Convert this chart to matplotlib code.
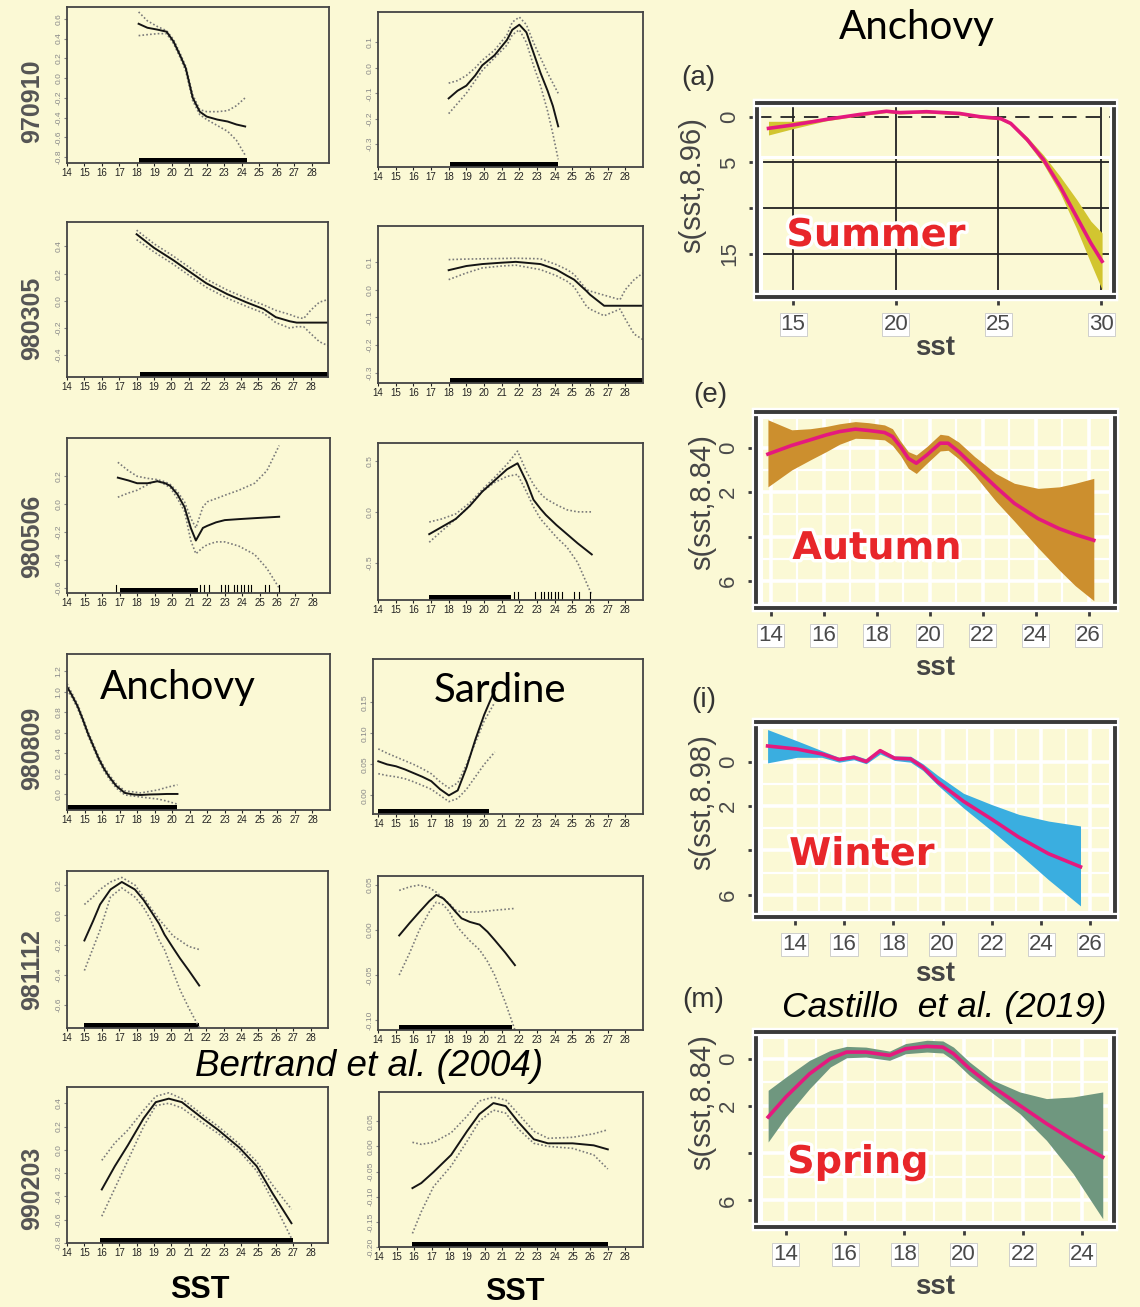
import numpy as np
import matplotlib.pyplot as plt
from matplotlib import patheffects as pe
from matplotlib.patches import Rectangle

plt.rcParams['font.family'] = ['Liberation Sans', 'DejaVu Sans']

W, H = 1140, 1307
BG = '#FBF9D5'

# ---------------- left column data (Bertrand et al. 2004) ----------------
a1_x = [18.1, 18.6, 19.2, 19.7, 20.1, 20.5, 20.8, 21.2, 21.6, 22.0, 22.6, 23.2, 23.7, 24.2]
a1_fit = [0.55, 0.51, 0.49, 0.47, 0.37, 0.22, 0.10, -0.20, -0.34, -0.39, -0.42, -0.44, -0.47, -0.49]
a1_hi = [0.67, 0.58, 0.52, 0.48, 0.39, 0.24, 0.12, -0.17, -0.32, -0.34, -0.34, -0.33, -0.28, -0.20]
a1_lo = [0.43, 0.44, 0.45, 0.45, 0.35, 0.20, 0.07, -0.23, -0.37, -0.42, -0.48, -0.54, -0.63, -0.78]
a1_yt = [-0.8, -0.6, -0.4, -0.2, 0.0, 0.2, 0.4, 0.6]

s1_x = [18.0, 18.5, 19.0, 19.5, 19.9, 20.6, 21.3, 21.6, 22.0, 22.4, 22.8, 23.2, 23.6, 23.9, 24.2]
s1_fit = [-0.12, -0.09, -0.07, -0.03, 0.01, 0.05, 0.11, 0.15, 0.17, 0.14, 0.06, -0.02, -0.09, -0.15, -0.23]
s1_hi = [-0.06, -0.05, -0.03, 0.0, 0.03, 0.07, 0.13, 0.18, 0.20, 0.17, 0.10, 0.04, -0.02, -0.06, -0.10]
s1_lo = [-0.18, -0.14, -0.10, -0.05, -0.01, 0.04, 0.09, 0.13, 0.15, 0.10, 0.01, -0.07, -0.17, -0.26, -0.36]
s1_yt = [-0.3, -0.2, -0.1, 0.0, 0.1]

a2_x = [18.0, 19.0, 20.1, 21.1, 22.0, 23.2, 24.3, 25.3, 26.0, 26.8, 27.2, 27.6, 28.0, 28.5, 29.0]
a2_fit = [0.49, 0.39, 0.30, 0.21, 0.13, 0.05, -0.01, -0.06, -0.12, -0.15, -0.16, -0.16, -0.16, -0.16, -0.16]
a2_hi = [0.52, 0.42, 0.33, 0.24, 0.16, 0.08, 0.02, -0.03, -0.07, -0.10, -0.12, -0.13, -0.07, -0.01, 0.01]
a2_lo = [0.45, 0.36, 0.27, 0.18, 0.10, 0.02, -0.04, -0.09, -0.16, -0.20, -0.19, -0.19, -0.24, -0.30, -0.33]
a2_yt = [-0.4, -0.2, 0.0, 0.2, 0.4]

s2_x = [18.0, 19.0, 19.9, 21.0, 21.8, 23.2, 24.1, 24.7, 25.1, 25.8, 26.0, 26.8, 27.7, 28.0, 28.5, 29.0]
s2_fit = [0.07, 0.085, 0.092, 0.097, 0.10, 0.092, 0.072, 0.05, 0.036, -0.005, -0.018, -0.058, -0.058, -0.058, -0.058, -0.058]
s2_hi = [0.108, 0.11, 0.111, 0.112, 0.113, 0.111, 0.09, 0.072, 0.055, 0.0, -0.005, -0.02, -0.036, 0.0, 0.036, 0.06]
s2_lo = [0.036, 0.06, 0.078, 0.085, 0.088, 0.072, 0.05, 0.03, 0.01, -0.06, -0.07, -0.094, -0.07, -0.106, -0.16, -0.18]
s2_yt = [-0.3, -0.2, -0.1, 0.0, 0.1]

a3_x = [16.9, 17.5, 18.0, 18.6, 19.15, 19.6, 19.9, 20.3, 20.7, 21.06, 21.35, 21.75, 22.0, 22.5, 23.0, 23.8, 24.7, 25.4, 26.1]
a3_fit = [0.19, 0.17, 0.15, 0.15, 0.164, 0.15, 0.13, 0.07, -0.02, -0.17, -0.26, -0.17, -0.155, -0.13, -0.114, -0.107, -0.10, -0.095, -0.09]
a3_hi = [0.30, 0.24, 0.20, 0.185, 0.176, 0.16, 0.14, 0.09, 0.017, -0.10, -0.17, -0.02, 0.017, 0.04, 0.064, 0.10, 0.15, 0.24, 0.42]
a3_lo = [0.05, 0.08, 0.10, 0.14, 0.17, 0.14, 0.117, 0.04, -0.05, -0.26, -0.355, -0.31, -0.29, -0.27, -0.27, -0.30, -0.36, -0.46, -0.60]
a3_yt = [-0.6, -0.4, -0.2, 0.0, 0.2]
a3_sparse = [16.8, 21.6, 21.8, 22.1, 22.8, 23.0, 23.2, 23.5, 23.7, 23.9, 24.1, 24.3, 24.5, 25.3, 25.5, 26.1]

s3_x = [16.9, 17.6, 18.4, 19.2, 19.9, 20.6, 21.3, 21.9, 22.4, 22.8, 23.2, 23.5, 24.1, 24.7, 25.3, 26.1]
s3_fit = [-0.22, -0.15, -0.07, 0.06, 0.20, 0.31, 0.42, 0.48, 0.30, 0.12, 0.03, -0.03, -0.13, -0.22, -0.31, -0.42]
s3_hi = [-0.10, -0.07, -0.02, 0.09, 0.22, 0.34, 0.47, 0.60, 0.40, 0.27, 0.18, 0.13, 0.07, 0.02, 0.0, 0.0]
s3_lo = [-0.30, -0.19, -0.07, 0.06, 0.20, 0.29, 0.35, 0.37, 0.20, 0.05, -0.07, -0.13, -0.25, -0.35, -0.50, -0.82]
s3_yt = [-0.5, 0.0, 0.5]
s3_sparse = [21.7, 21.9, 22.9, 23.2, 23.4, 23.6, 23.8, 24.0, 24.2, 24.4, 25.1, 25.4, 26.0]

a4_x = [14.0, 14.3, 14.6, 14.9, 15.2, 15.5, 15.8, 16.1, 16.4, 16.8, 17.3, 17.8, 18.2, 18.7, 19.2, 19.7, 20.3]
a4_fit = [1.05, 0.96, 0.86, 0.73, 0.59, 0.47, 0.35, 0.25, 0.17, 0.08, 0.01, -0.005, -0.01, -0.005, -0.003, 0.0, 0.0]
a4_hi = [1.08, 0.98, 0.88, 0.75, 0.61, 0.49, 0.37, 0.27, 0.19, 0.10, 0.03, 0.02, 0.01, 0.025, 0.04, 0.065, 0.09]
a4_lo = [1.02, 0.94, 0.84, 0.71, 0.57, 0.45, 0.33, 0.23, 0.15, 0.06, -0.01, -0.02, -0.03, -0.04, -0.05, -0.07, -0.10]
a4_yt = [0.0, 0.2, 0.4, 0.6, 0.8, 1.0, 1.2]

s4_x = [14.0, 14.5, 15.0, 15.5, 16.0, 16.5, 17.0, 17.5, 18.0, 18.5, 19.0, 19.5, 20.0, 20.6]
s4_fit = [0.055, 0.05, 0.047, 0.042, 0.036, 0.03, 0.023, 0.01, 0.0, 0.008, 0.045, 0.09, 0.13, 0.17]
s4_hi = [0.075, 0.068, 0.062, 0.056, 0.05, 0.043, 0.035, 0.022, 0.012, 0.02, 0.05, 0.085, 0.12, 0.15]
s4_lo = [0.035, 0.032, 0.03, 0.027, 0.022, 0.016, 0.01, 0.0, -0.01, -0.005, 0.01, 0.03, 0.05, 0.07]
s4_yt = [0.0, 0.05, 0.10, 0.15]

a5_x = [15.0, 15.5, 15.9, 16.5, 17.15, 17.9, 18.4, 18.8, 19.3, 19.6, 20.1, 20.5, 21.0, 21.6]
a5_fit = [-0.17, -0.04, 0.07, 0.17, 0.22, 0.17, 0.10, 0.03, -0.06, -0.13, -0.22, -0.29, -0.37, -0.47]
a5_hi = [0.07, 0.12, 0.17, 0.22, 0.25, 0.20, 0.12, 0.05, -0.03, -0.07, -0.14, -0.17, -0.21, -0.23]
a5_lo = [-0.37, -0.22, -0.10, 0.12, 0.18, 0.12, 0.05, -0.03, -0.17, -0.23, -0.38, -0.50, -0.62, -0.75]
a5_yt = [-0.6, -0.4, -0.2, 0.0, 0.2]

s5_x = [15.2, 15.8, 16.34, 16.9, 17.3, 17.7, 18.05, 18.4, 18.73, 19.2, 19.75, 20.2, 20.6, 21.2, 21.75]
s5_fit = [-0.006, 0.008, 0.02, 0.032, 0.039, 0.035, 0.028, 0.02, 0.013, 0.009, 0.006, -0.002, -0.011, -0.025, -0.039]
s5_hi = [0.044, 0.048, 0.05, 0.047, 0.042, 0.035, 0.029, 0.022, 0.02, 0.02, 0.02, 0.021, 0.022, 0.023, 0.024]
s5_lo = [-0.05, -0.025, 0.0, 0.02, 0.031, 0.028, 0.02, 0.006, -0.002, -0.012, -0.022, -0.035, -0.05, -0.08, -0.111]
s5_yt = [-0.10, -0.05, 0.0, 0.05]

a6_x = [16.0, 16.75, 17.5, 18.4, 19.1, 19.85, 20.6, 21.8, 22.7, 23.9, 24.9, 25.8, 26.9]
a6_fit = [-0.34, -0.14, 0.04, 0.27, 0.41, 0.44, 0.41, 0.27, 0.17, 0.02, -0.14, -0.37, -0.63]
a6_hi = [-0.09, 0.06, 0.17, 0.34, 0.46, 0.49, 0.44, 0.30, 0.20, 0.05, -0.10, -0.30, -0.51]
a6_lo = [-0.57, -0.33, -0.09, 0.20, 0.38, 0.40, 0.36, 0.23, 0.14, -0.01, -0.18, -0.43, -0.76]
a6_yt = [-0.8, -0.6, -0.4, -0.2, 0.0, 0.2, 0.4]

s6_x = [15.9, 16.4, 17.1, 18.1, 19.0, 19.7, 20.5, 21.2, 21.9, 22.8, 23.6, 25.0, 26.2, 27.0]
s6_fit = [-0.083, -0.073, -0.051, -0.017, 0.03, 0.064, 0.086, 0.08, 0.049, 0.014, 0.006, 0.006, 0.002, -0.006]
s6_hi = [0.008, 0.004, 0.008, 0.027, 0.06, 0.09, 0.098, 0.092, 0.065, 0.03, 0.016, 0.018, 0.025, 0.033]
s6_lo = [-0.173, -0.13, -0.08, -0.039, 0.01, 0.05, 0.072, 0.066, 0.035, 0.006, 0.0, -0.004, -0.017, -0.045]
s6_yt = [-0.20, -0.15, -0.10, -0.05, 0.0, 0.05]

row_labels = ['970910', '980305', '980506', '980809', '981112', '990203']
sst_ticks = list(range(14, 29))

# ---------------- right column data (Castillo et al. 2019) ----------------
su_x = [13.8, 15.0, 16.6, 18.25, 19.55, 20.2, 21.5, 23.1, 24.1, 25.1, 25.6, 26.4, 27.2, 28.0, 28.8, 29.5, 30.05]
su_fit = [-1.27, -0.9, -0.3, 0.25, 0.6, 0.45, 0.55, 0.36, 0.0, -0.2, -0.73, -2.5, -4.7, -7.6, -10.9, -13.8, -15.8]
su_hi = [-0.5, -0.5, -0.15, 0.4, 0.75, 0.6, 0.7, 0.5, 0.15, -0.05, -0.55, -2.2, -4.2, -6.5, -9.0, -11.4, -12.7]
su_lo = [-2.0, -1.3, -0.45, 0.1, 0.45, 0.3, 0.4, 0.2, -0.15, -0.35, -0.9, -2.8, -5.2, -8.3, -12.2, -16.0, -18.9]

au_x = [13.9, 14.8, 15.5, 16.1, 16.6, 17.2, 17.7, 18.3, 18.6, 18.9, 19.2, 19.5, 19.9, 20.4, 20.7, 21.1, 21.7, 22.5, 23.2, 24.1, 24.9, 25.5, 26.2]
au_fit = [-0.29, 0.1, 0.35, 0.57, 0.72, 0.83, 0.77, 0.68, 0.5, 0.05, -0.48, -0.7, -0.33, 0.2, 0.2, -0.18, -0.86, -1.76, -2.5, -3.19, -3.64, -3.9, -4.16]
au_hi = [1.25, 0.8, 0.85, 0.95, 1.07, 1.17, 1.12, 1.02, 0.85, 0.3, -0.18, -0.33, 0.05, 0.6, 0.55, 0.25, -0.4, -1.16, -1.6, -1.83, -1.76, -1.6, -1.38]
au_lo = [-1.76, -1.0, -0.55, -0.18, 0.15, 0.42, 0.4, 0.35, 0.1, -0.35, -0.93, -1.16, -0.7, -0.15, -0.12, -0.5, -1.23, -2.4, -3.3, -4.5, -5.5, -6.2, -6.87]

wi_x = [12.9, 14.1, 15.1, 15.8, 16.4, 16.9, 17.47, 18.05, 18.7, 19.2, 19.8, 20.85, 22.0, 23.1, 24.3, 25.6]
wi_fit = [0.7, 0.56, 0.34, 0.09, 0.19, 0.0, 0.49, 0.15, 0.12, -0.25, -0.91, -1.79, -2.6, -3.41, -4.15, -4.74]
wi_hi = [1.44, 0.93, 0.49, 0.19, 0.3, 0.12, 0.56, 0.25, 0.24, -0.1, -0.62, -1.43, -1.94, -2.38, -2.68, -2.9]
wi_lo = [-0.06, 0.19, 0.19, -0.03, 0.08, -0.1, 0.34, 0.05, -0.03, -0.4, -1.06, -2.09, -3.12, -4.15, -5.32, -6.5]

sp_x = [13.4, 14.0, 14.8, 15.5, 16.05, 16.7, 17.5, 18.04, 18.76, 19.3, 19.66, 20.2, 21.0, 21.9, 22.8, 23.7, 24.7]
sp_fit = [-2.47, -1.62, -0.64, 0.0, 0.28, 0.28, 0.14, 0.42, 0.52, 0.49, 0.21, -0.42, -1.2, -1.98, -2.75, -3.46, -4.17]
sp_hi = [-1.34, -0.78, -0.07, 0.35, 0.52, 0.49, 0.32, 0.64, 0.78, 0.75, 0.49, -0.14, -0.92, -1.41, -1.69, -1.62, -1.41]
sp_lo = [-3.53, -2.47, -1.27, -0.35, 0.04, 0.07, -0.07, 0.21, 0.28, 0.24, -0.07, -0.71, -1.48, -2.33, -3.46, -4.87, -6.78]

su_xt = [15, 20, 25, 30]
su_yt = [0, -5, -10, -15]
su_ylab = ['0', '5', '', '15']
se_yt = [0, -2, -4, -6]
se_ylab = ['0', '2', '', '6']
au_xt = [14, 16, 18, 20, 22, 24, 26]
wi_xt = [14, 16, 18, 20, 22, 24, 26]
sp_xt = [14, 16, 18, 20, 22, 24]


fig = plt.figure(figsize=(W / 100, H / 100), dpi=100, facecolor=BG)


def rect(l, t, r, b):
    return [l / W, 1 - b / H, (r - l) / W, (b - t) / H]


def put(x, y, s, **kw):
    fig.text(x / W, 1 - y / H, s, ha='center', va='center', **kw)


def gam_panel(box, x, fit, hi, lo, ylim, yticks, fmt, rug, sparse=(), xlim=(14, 29)):
    ax = fig.add_axes(rect(*box), facecolor=BG)
    ax.plot(x, hi, ls=(0, (1, 1.3)), color='#7a7a7a', lw=1.2)
    ax.plot(x, lo, ls=(0, (1, 1.3)), color='#7a7a7a', lw=1.2)
    ax.plot(x, fit, color='#151515', lw=1.4)
    ax.axvspan(rug[0], rug[1], ymin=0, ymax=0.035, color='black', lw=0)
    for s in sparse:
        ax.axvline(s, ymin=0, ymax=0.05, color='black', lw=0.8)
    ax.set_xlim(xlim)
    ax.set_ylim(ylim)
    ax.set_xticks(sst_ticks)
    ax.set_yticks(yticks)
    ax.set_yticklabels([fmt.format(v) for v in yticks], rotation=90, va='center')
    ax.tick_params(axis='x', labelsize=7, length=2, width=0.8, pad=1.5, colors='#222')
    ax.tick_params(axis='y', labelsize=6, length=2, width=0.8, pad=1, colors='#888')
    for sp in ax.spines.values():
        sp.set_color('#444')
        sp.set_linewidth(1.3)
    return ax


# left column, anchovy
gam_panel((67, 7, 329, 163), a1_x, a1_fit, a1_hi, a1_lo, (-0.86, 0.72), a1_yt, '{:.1f}', (18.1, 24.3))
gam_panel((67, 222, 328, 377), a2_x, a2_fit, a2_hi, a2_lo, (-0.56, 0.58), a2_yt, '{:.1f}', (18.2, 29))
gam_panel((67, 438, 330, 593), a3_x, a3_fit, a3_hi, a3_lo, (-0.636, 0.474), a3_yt, '{:.1f}', (17.0, 21.5), a3_sparse)
gam_panel((67, 654, 330, 810), a4_x, a4_fit, a4_hi, a4_lo, (-0.157, 1.37), a4_yt, '{:.1f}', (14.0, 20.3))
gam_panel((67, 871, 328, 1028), a5_x, a5_fit, a5_hi, a5_lo, (-0.753, 0.293), a5_yt, '{:.1f}', (15.0, 21.6))
gam_panel((67, 1087, 328, 1243), a6_x, a6_fit, a6_hi, a6_lo, (-0.79, 0.54), a6_yt, '{:.1f}', (15.9, 27.0))

# left column, sardine
gam_panel((378, 12, 643, 167), s1_x, s1_fit, s1_hi, s1_lo, (-0.39, 0.22), s1_yt, '{:.1f}', (18.1, 24.2))
gam_panel((378, 226, 643, 383), s2_x, s2_fit, s2_hi, s2_lo, (-0.336, 0.229), s2_yt, '{:.1f}', (18.1, 29))
gam_panel((378, 443, 643, 600), s3_x, s3_fit, s3_hi, s3_lo, (-0.87, 0.68), s3_yt, '{:.1f}', (16.9, 21.5), s3_sparse)
gam_panel((373, 659, 643, 814), s4_x, s4_fit, s4_hi, s4_lo, (-0.03, 0.22), s4_yt, '{:.2f}', (14.0, 20.3), xlim=(13.7, 29))
gam_panel((378, 876, 643, 1030), s5_x, s5_fit, s5_hi, s5_lo, (-0.111, 0.06), s5_yt, '{:.2f}', (15.2, 21.6))
gam_panel((379, 1092, 643, 1247), s6_x, s6_fit, s6_hi, s6_lo, (-0.184, 0.108), s6_yt, '{:.2f}', (15.9, 27.0))

for lab, yc in zip(row_labels, [101, 318, 536, 748, 970, 1188]):
    put(32, yc, lab, rotation=90, fontsize=18, weight='bold', color='#555')

put(178, 688, 'Anchovy', fontsize=29, family='Lato')
put(500, 690, 'Sardine', fontsize=29, family='Lato')
put(369, 1067, 'Bertrand et al. (2004)', fontsize=26.5, style='italic')
put(200, 1290, 'SST', fontsize=22, weight='bold')
put(515, 1292, 'SST', fontsize=22, weight='bold')


# ---------------- right column ----------------
def season_panel(box, x, fit, hi, lo, color, xlim, ylim, xticks, yticks, ylabels, dark_grid=False):
    ax = fig.add_axes(rect(*box), facecolor=BG)
    ax.set_xlim(xlim)
    ax.set_ylim(ylim)
    ax.set_xticks(xticks)
    ax.set_yticks(yticks)
    ax.set_yticklabels(ylabels, rotation=90, va='center')
    if dark_grid:
        for v in xticks:
            ax.axvline(v, color='#222', lw=1.3, zorder=1)
        for v in yticks[1:]:
            ax.axhline(v, color='#222', lw=1.3, zorder=1)
        ax.axhline(yticks[0], color='#222', lw=1.3, ls=(0, (8, 5)), zorder=1)
        ax.add_patch(Rectangle((0.012, 0.03), 0.976, 0.69, transform=ax.transAxes,
                               fill=False, ec='white', lw=2.2, zorder=1.5))
    else:
        ax.set_xticks([v + 1 for v in xticks], minor=True)
        ax.set_yticks([v - 1 for v in yticks], minor=True)
        ax.grid(which='major', color='white', lw=2.6)
        ax.grid(which='minor', color='white', lw=1.6)
        ax.set_axisbelow(True)
        ax.add_patch(Rectangle((0.014, 0.026), 0.972, 0.948, transform=ax.transAxes,
                               fill=False, ec='white', lw=2.2, zorder=0.5))
    ax.fill_between(x, lo, hi, color=color, lw=0, zorder=2)
    ax.plot(x, fit, color='#E5197E', lw=2.6, zorder=3)
    for sp in ax.spines.values():
        sp.set_color('#3a3a3a')
        sp.set_linewidth(2.8)
        sp.set_path_effects([pe.withStroke(linewidth=6, foreground='white')])
    ax.tick_params(which='major', length=6, width=2, color='#3a3a3a', labelsize=16,
                   labelcolor='#4a4a4a', pad=6)
    ax.tick_params(which='minor', length=0)
    for lab in ax.get_xticklabels():
        lab.set_bbox(dict(fc='white', ec='#c8c8c8', lw=0.6, pad=0.8))
    return ax


season_panel((757, 103, 1114, 297), su_x, su_fit, su_hi, su_lo, '#D2C530',
             (13.24, 30.63), (-19.7, 1.5), su_xt, su_yt, su_ylab, dark_grid=True)
season_panel((756, 412, 1115, 608), au_x, au_fit, au_hi, au_lo, '#CC8F2E',
             (13.45, 26.7), (-7.2, 1.6), au_xt, se_yt, se_ylab)
season_panel((756, 722, 1115, 917), wi_x, wi_fit, wi_hi, wi_lo, '#3AAEE0',
             (12.43, 26.1), (-6.82, 1.78), wi_xt, se_yt, se_ylab)
season_panel((756, 1032, 1114, 1227), sp_x, sp_fit, sp_hi, sp_lo, '#6F977F',
             (12.99, 25.08), (-7.13, 1.13), sp_xt, se_yt, se_ylab)

put(917, 28, 'Anchovy', fontsize=29, family='Lato')
put(944, 1008, 'Castillo  et al. (2019)', fontsize=25.5, style='italic')

for lab, (xc, yc) in zip(['(a)', '(e)', '(i)', '(m)'], [(698, 78), (710, 395), (704, 700), (703, 1000)]):
    put(xc, yc, lab, fontsize=20, color='#333')

for lab, (xc, yc) in zip(['s(sst,8.96)', 's(sst,8.84)', 's(sst,8.98)', 's(sst,8.84)'],
                         [(692, 185), (702, 502), (702, 802), (702, 1102)]):
    put(xc, yc, lab, fontsize=21, rotation=90, color='#454545')

for yc in [348, 668, 974, 1287]:
    put(935, yc, 'sst', fontsize=20, weight='bold', color='#454545')

halo = [pe.withStroke(linewidth=5, foreground='white')]
for lab, (xc, yc) in zip(['Summer', 'Autumn', 'Winter', 'Spring'],
                         [(876, 236), (877, 549), (862, 855), (858, 1163)]):
    put(xc, yc, lab, fontsize=27.5, weight='bold', family='DejaVu Sans', color='#E8262A',
        path_effects=halo)

fig.savefig('out.png', dpi=100, facecolor=BG)
